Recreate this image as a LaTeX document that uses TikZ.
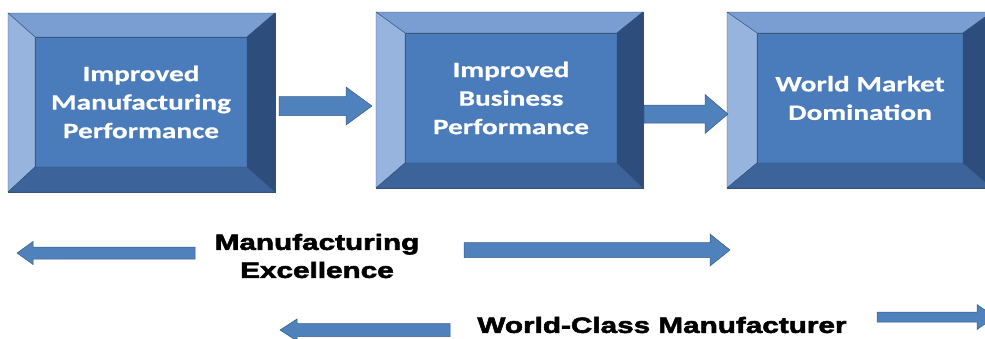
\documentclass[tikz,border=0pt]{standalone}
\usepackage{fontspec}
\usepackage{tikz}
\usetikzlibrary{calc}
\newfontfamily\boxfont[FakeStretch=1.33,FakeBold=0.6]{Carlito}
\newfontfamily\capfont[FakeStretch=1.35,FakeBold=2.6]{Liberation Sans}
\definecolor{faceblue}{RGB}{74,123,186}
\definecolor{bevtop}{RGB}{122,158,210}
\definecolor{bevleft}{RGB}{150,180,222}
\definecolor{bevright}{RGB}{45,78,125}
\definecolor{bevbottom}{RGB}{60,100,155}
\definecolor{edgeblue}{RGB}{50,80,120}
\definecolor{arrowblue}{RGB}{79,129,189}
\definecolor{arrowedge}{RGB}{56,93,138}
\tikzset{
  frame/.style={draw=edgeblue, line width=0.8pt, inner sep=0pt, outer sep=0pt},
  face/.style={draw=edgeblue, fill=faceblue, line width=0.5pt, inner sep=0pt,
    outer sep=0pt, text=white, align=center,
    font=\boxfont\bfseries\fontsize{22}{28.5}\selectfont},
  bevel/.style={draw=edgeblue, line width=0.4pt, line join=round},
  arrowbody/.style={fill=arrowblue, draw=arrowedge, line width=0.5pt},
  caption/.style={align=center, font=\capfont\bfseries\fontsize{22}{28}\selectfont}
}
% horizontal block arrow: start, tip, shaft half width, head half width, head length
\newcommand{\blockarrow}[5]{%
  \path[arrowbody] let \p1=(#1), \p2=(#2), \n1={sign(\x2-\x1)} in
    (\x1,\y1+#3pt) -- (\x2-\n1*#5pt,\y2+#3pt) -- (\x2-\n1*#5pt,\y2+#4pt) -- (\x2,\y2)
    -- (\x2-\n1*#5pt,\y2-#4pt) -- (\x2-\n1*#5pt,\y2-#3pt) -- (\x1,\y1-#3pt) -- cycle;}

\begin{document}
\begin{tikzpicture}[x=1pt,y=-1pt]
\useasboundingbox (0,0) rectangle (985,338);
\clip (0,0) rectangle (985,338);

% beveled boxes
\node[frame, minimum width=267pt, minimum height=179pt] (b1) at (141.5,102.5) {};
\node[frame, minimum width=267pt, minimum height=176pt] (b2) at (509.5,100) {};
\node[frame, minimum width=265pt, minimum height=176pt] (b3) at (859.5,100) {};

\node[face, minimum width=212pt, minimum height=130pt] (f1) at (141,102)
  {Improved\\Manufacturing\\Performance};
\node[face, minimum width=212pt, minimum height=130pt] (f2) at (511,98)
  {Improved\\Business\\Performance};
\node[face, minimum width=206pt, minimum height=130pt] (f3) at (860,98)
  {World Market\\Domination};

\foreach \o/\i in {b1/f1,b2/f2,b3/f3} {
  \path[bevel, fill=bevtop] (\o.north west) -- (\o.north east) -- (\i.north east) -- (\i.north west) -- cycle;
  \path[bevel, fill=bevleft] (\o.north west) -- (\i.north west) -- (\i.south west) -- (\o.south west) -- cycle;
  \path[bevel, fill=bevright] (\o.north east) -- (\o.south east) -- (\i.south east) -- (\i.north east) -- cycle;
  \path[bevel, fill=bevbottom] (\o.south west) -- (\i.south west) -- (\i.south east) -- (\o.south east) -- cycle;
}

% arrows between the boxes
\blockarrow{[xshift=4pt,yshift=-3.5pt]b1.east}{[xshift=-4pt,yshift=-6pt]b2.west}{9.5}{19}{26}
\blockarrow{[xshift=1pt,yshift=-14pt]b2.east}{[xshift=1pt,yshift=-14pt]b3.west}{9}{19.5}{23}

% captions
\node[caption] (mfg) at (317,256) {Manufacturing\\Excellence};
\node[caption] (wcm) at (662,325) {World-Class Manufacturer};

\coordinate (mfgL) at (195,253);
\coordinate (mfgLt) at (17,253);
\coordinate (mfgR) at (464,250);
\coordinate (mfgRt) at (730,250);
\coordinate (wcmL) at (450,330);
\coordinate (wcmLt) at (280,330);
\coordinate (wcmR) at (877,317);
\coordinate (wcmRt) at (995,317);

\blockarrow{mfgL}{mfgLt}{6}{11.5}{16}
\blockarrow{mfgR}{mfgRt}{7.5}{16}{20}
\blockarrow{wcmL}{wcmLt}{6.5}{11}{17}
\blockarrow{wcmR}{wcmRt}{5}{12.5}{18}
\end{tikzpicture}
\end{document}
